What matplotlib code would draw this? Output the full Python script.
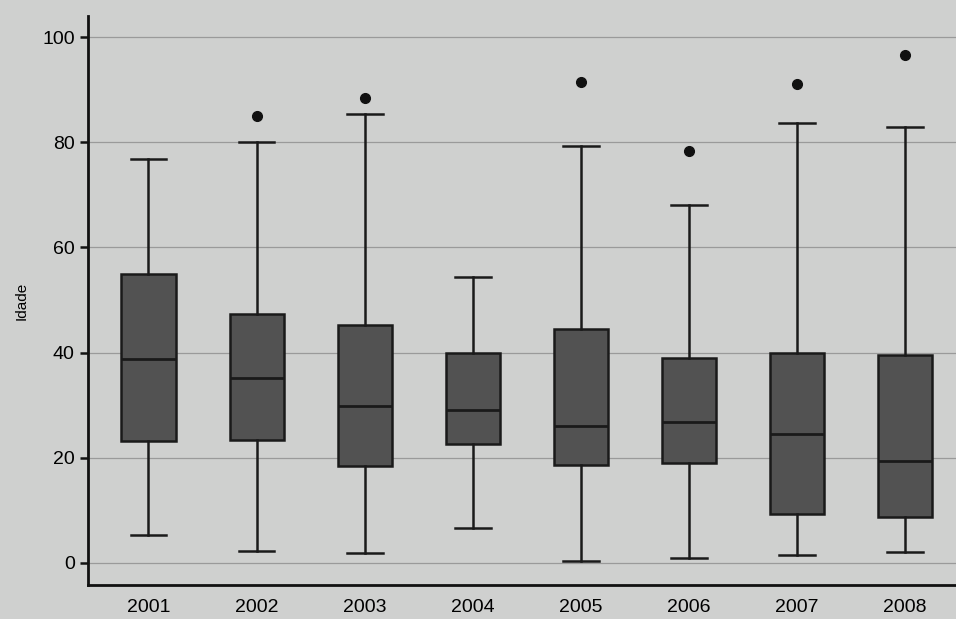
import matplotlib.pyplot as plt

# Age distribution per year (five-number summary plus outliers)
anos = ['2001', '2002', '2003', '2004', '2005', '2006', '2007', '2008']
minimo = [5.3, 2.3, 1.9, 6.7, 0.4, 1.0, 1.5, 2.0]
q1 = [23.2, 23.4, 18.4, 22.6, 18.6, 19.0, 9.3, 8.7]
mediana = [38.8, 35.2, 29.8, 29.1, 26.0, 26.8, 24.5, 19.4]
q3 = [55.0, 47.3, 45.2, 39.9, 44.5, 39.0, 40.0, 39.5]
maximo = [76.8, 80.0, 85.4, 54.4, 79.3, 68.0, 83.7, 83.0]
atipicos = [[], [85.0], [88.4], [], [91.4], [78.3], [91.0], [96.6]]

fundo = '#cfd0cf'
plt.rcParams['font.family'] = ['Liberation Sans', 'DejaVu Sans']

fig = plt.figure(figsize=(9.56, 6.19), dpi=100, facecolor=fundo)
ax = fig.add_axes([0.092, 0.055, 0.908, 0.919])
ax.set_facecolor(fundo)

stats = []
for i, ano in enumerate(anos):
    stats.append({'label': ano, 'whislo': minimo[i], 'q1': q1[i],
                  'med': mediana[i], 'q3': q3[i], 'whishi': maximo[i],
                  'fliers': atipicos[i]})

ax.bxp(stats, positions=range(1, len(anos) + 1), widths=0.5, capwidths=0.33,
       patch_artist=True, showfliers=True,
       boxprops=dict(facecolor='#525252', edgecolor='#1a1a1a', linewidth=1.8),
       medianprops=dict(color='#1a1a1a', linewidth=2),
       whiskerprops=dict(color='#1a1a1a', linewidth=1.8),
       capprops=dict(color='#1a1a1a', linewidth=1.8),
       flierprops=dict(marker='o', markerfacecolor='#111111',
                       markeredgecolor='#111111', markersize=7))

ax.set_ylim(-4.2, 104)
ax.set_xlim(0.44, 8.47)
ax.set_yticks([0, 20, 40, 60, 80, 100])
ax.yaxis.grid(True, color='#9a9a9a', linewidth=0.9)
ax.set_axisbelow(True)

for lado in ['top', 'right']:
    ax.spines[lado].set_visible(False)
for lado in ['left', 'bottom']:
    ax.spines[lado].set_color('#111111')
    ax.spines[lado].set_linewidth(2)

ax.tick_params(axis='y', length=6, width=1.8, labelsize=14, color='#111111')
ax.tick_params(axis='x', length=0, labelsize=14, pad=10)
ax.set_ylabel('Idade', fontsize=11, labelpad=10)

fig.savefig('out.png', dpi=100, facecolor=fundo)
